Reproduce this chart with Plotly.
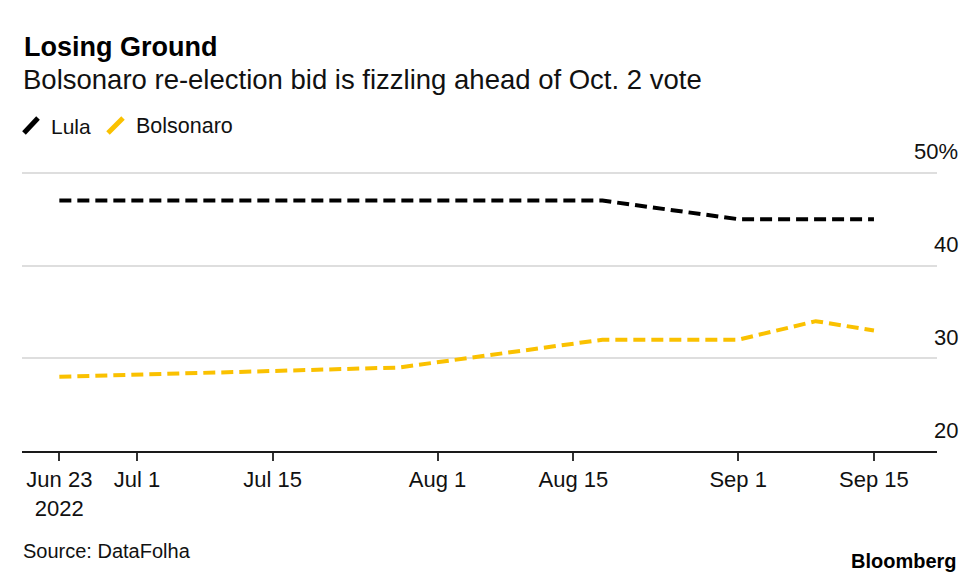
import plotly.graph_objects as go

# ---- data ----
poll_dates = ["2022-06-23", "2022-07-28", "2022-08-18", "2022-09-01", "2022-09-09", "2022-09-15"]
lula = [47, 47, 47, 45, 45, 45]
bolsonaro = [28, 29, 32, 32, 34, 33]

x_tick_vals = ["2022-06-23", "2022-07-01", "2022-07-15", "2022-08-01", "2022-08-15", "2022-09-01", "2022-09-15"]
x_tick_text = ["Jun 23<br>2022", "Jul 1", "Jul 15", "Aug 1", "Aug 15", "Sep 1", "Sep 15"]
y_tick_vals = [20, 30, 40, 50]
y_tick_text = ["20", "30", "40", "50%"]

BLACK = "#000000"
GOLD = "#FAC100"
FONT = "Liberation Sans, Arial, Helvetica, sans-serif"

OFF = 8  # page body margin
W, H = 980 - OFF, 579 - OFF
L, R, T, B = 14, 43, 162, 128
PH = H - T - B
PW = W - L - R


def py(y):
    # page pixel y -> paper coordinate
    return (H - B - (y - OFF)) / PH


def px(x):
    # page pixel x -> paper coordinate
    return (x - OFF - L) / PW


fig = go.Figure()
fig.add_trace(go.Scatter(x=poll_dates, y=lula, mode="lines", name="Lula",
                         line=dict(color=BLACK, width=4, dash="12px,6px"),
                         hoverinfo="x+y"))
fig.add_trace(go.Scatter(x=poll_dates, y=bolsonaro, mode="lines", name="Bolsonaro",
                         line=dict(color=GOLD, width=4, dash="12px,6px"),
                         hoverinfo="x+y"))

fig.update_layout(
    width=W, height=H,
    margin=dict(l=L, r=R, t=T, b=B),
    paper_bgcolor="white", plot_bgcolor="white",
    showlegend=False,
    font=dict(family=FONT, color="#111111", size=20),
    xaxis=dict(
        type="date",
        range=["2022-06-19 03:36", "2022-09-21 12:00"],
        tickvals=x_tick_vals, ticktext=x_tick_text,
        showgrid=False, zeroline=False,
        showline=True, linecolor="#1a1a1a", linewidth=2,
        ticks="outside", ticklen=8, tickwidth=1.5, tickcolor="#333333",
        tickfont=dict(size=22, color="#111111", family=FONT),
        fixedrange=True,
    ),
    yaxis=dict(
        range=[20, 50.3],
        tickvals=y_tick_vals,
        showticklabels=False,
        showgrid=True, gridcolor="#dedede", gridwidth=1.5,
        zeroline=False, showline=False, ticks="",
        fixedrange=True,
    ),
)

annotations = []
# y tick labels above gridlines, right-aligned
for v, t in zip(y_tick_vals, y_tick_text):
    annotations.append(dict(x=1, xref="paper", y=v, yref="y", text=t, showarrow=False,
                            xanchor="right", yanchor="middle", xshift=23, yshift=21,
                            font=dict(size=22, color="#111111", family=FONT)))

annotations += [
    dict(x=px(22), y=py(47), xref="paper", yref="paper", text="<b>Losing Ground</b>",
         showarrow=False, xanchor="left", yanchor="middle",
         font=dict(size=27, color="#000000", family=FONT)),
    dict(x=px(21), y=py(80), xref="paper", yref="paper",
         text="Bolsonaro re-election bid is fizzling ahead of Oct. 2 vote",
         showarrow=False, xanchor="left", yanchor="middle",
         font=dict(size=27.5, color="#111111", family=FONT)),
    dict(x=px(49), y=py(126), xref="paper", yref="paper", text="Lula",
         showarrow=False, xanchor="left", yanchor="middle",
         font=dict(size=21, color="#111111", family=FONT)),
    dict(x=px(134), y=py(126), xref="paper", yref="paper", text="Bolsonaro",
         showarrow=False, xanchor="left", yanchor="middle",
         font=dict(size=21.5, color="#111111", family=FONT)),
    dict(x=px(21), y=py(551), xref="paper", yref="paper", text="Source: DataFolha",
         showarrow=False, xanchor="left", yanchor="middle",
         font=dict(size=20, color="#111111", family=FONT)),
    dict(x=px(959), y=py(561), xref="paper", yref="paper", text="<b>Bloomberg</b>",
         showarrow=False, xanchor="right", yanchor="middle",
         font=dict(size=20, color="#000000", family=FONT)),
]
fig.update_layout(annotations=annotations)

fig.update_layout(shapes=[
    dict(type="line", xref="paper", yref="paper", x0=px(24), y0=py(133), x1=px(38), y1=py(118),
         line=dict(color=BLACK, width=5)),
    dict(type="line", xref="paper", yref="paper", x0=px(108), y0=py(133), x1=px(123), y1=py(118),
         line=dict(color=GOLD, width=5)),
])

fig.write_html("out.html")
